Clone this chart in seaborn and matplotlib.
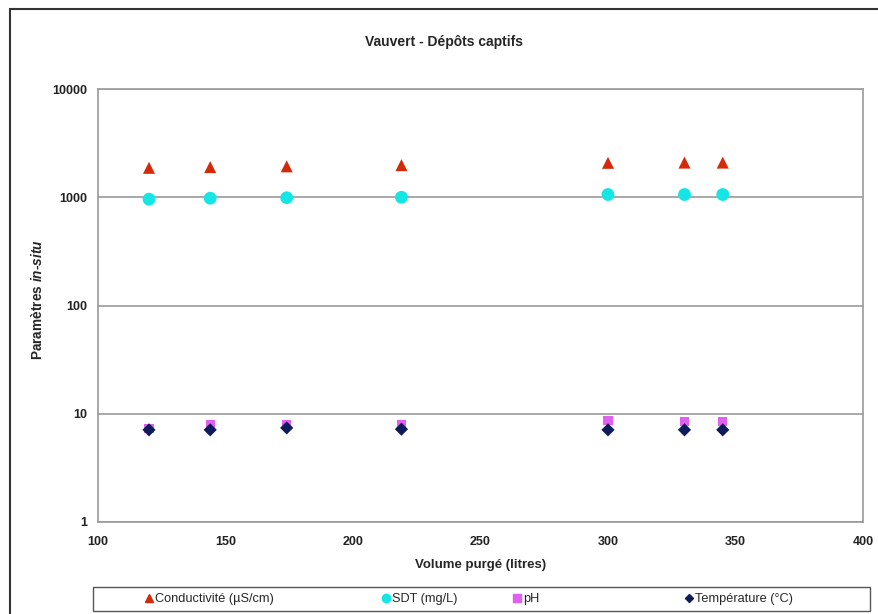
import matplotlib
matplotlib.use("Agg")
import matplotlib.pyplot as plt
import seaborn as sns
import pandas as pd
from matplotlib.patches import Rectangle
from matplotlib.lines import Line2D

volume = [120, 144, 174, 219, 300, 330, 345]
conductivite = [1870, 1900, 1930, 1980, 2080, 2090, 2090]
sdt = [960, 980, 990, 1000, 1060, 1060, 1060]
ph = [7.3, 7.9, 7.9, 8.0, 8.6, 8.5, 8.5]
temperature = [7.1, 7.1, 7.4, 7.2, 7.1, 7.1, 7.1]

labels = ["Conductivité (µS/cm)", "SDT (mg/L)", "pH", "Température (°C)"]
colors = ["#d42a0a", "#14e6e6", "#e060f0", "#0c1c5a"]
markers = ["^", "o", "s", "D"]
sizes = [75, 85, 45, 45]
leg_sizes = [6, 6, 6, 4.5]

sns.set_theme(style="white")
plt.rcParams["font.family"] = ["Liberation Sans", "DejaVu Sans"]
plt.rcParams["mathtext.fontset"] = "custom"
plt.rcParams["mathtext.it"] = "Liberation Sans:italic:bold"
plt.rcParams["mathtext.rm"] = "Liberation Sans:bold"

fig = plt.figure(figsize=(8.79, 6.14), dpi=100)
ax = fig.add_axes([98/879, 1-522/614, 765/879, 433/614])

series = [conductivite, sdt, ph, temperature]
for vals, lab, c, m, s in zip(series, labels, colors, markers, sizes):
    df = pd.DataFrame({"x": volume, "y": vals})
    sns.scatterplot(data=df, x="x", y="y", ax=ax, color=c, marker=m, s=s,
                    edgecolor="none", zorder=3)

ax.set_yscale("log")
ax.set_ylim(1, 10000)
ax.set_xlim(100, 400)
ax.set_xticks([100, 150, 200, 250, 300, 350, 400])
ax.set_yticks([1, 10, 100, 1000, 10000])
ax.set_yticklabels(["1", "10", "100", "1000", "10000"])
ax.minorticks_off()
ax.yaxis.grid(True, color="#9a9a9a", linewidth=1.2)
ax.xaxis.grid(False)
for sp in ax.spines.values():
    sp.set_color("#9a9a9a")
    sp.set_linewidth(1.2)
ax.tick_params(axis="both", labelsize=9, colors="#9a9a9a", labelcolor="#222222",
               length=4, width=1, direction="out", pad=4)
ax.tick_params(axis="x", direction="inout", pad=8)
for t in ax.get_xticklabels() + ax.get_yticklabels():
    t.set_fontweight("bold")

ax.set_xlabel("Volume purgé (litres)", fontsize=9.5, fontweight="bold", labelpad=8)
ax.set_ylabel(r"Paramètres $\it{in}$-$\it{situ}$", fontsize=9.8, fontweight="bold")
ax.yaxis.set_label_coords(-(98 - 45) / 765, (522 - 300) / 433)
fig.text(0.5 + 0.005, 1-42/614, "Vauvert - Dépôts captifs", ha="center", va="center",
         fontsize=10, fontweight="bold")

# outer chart border
fig.patches.append(Rectangle((10/879, -0.05), 1.0, 1-9/614+0.05, transform=fig.transFigure,
                             fill=False, edgecolor="#333333", linewidth=1.5))

# legend frame
fig.patches.append(Rectangle((93/879, 1-611/614), 777/879, 24/614, transform=fig.transFigure,
                             fill=False, edgecolor="#555555", linewidth=1.0))
legend_x = [144, 381, 512, 684]
for xpos, lab, c, m, ms in zip(legend_x, labels, colors, markers, leg_sizes):
    h = Line2D([], [], linestyle="none", marker=m, color=c, markersize=ms)
    fig.legend([h], [lab], loc="center left", bbox_to_anchor=(xpos/879, 1-599/614),
               frameon=False, fontsize=9.2, handletextpad=0.05, handlelength=0.8,
               borderpad=0, borderaxespad=0)

fig.savefig("out.png", dpi=100)
